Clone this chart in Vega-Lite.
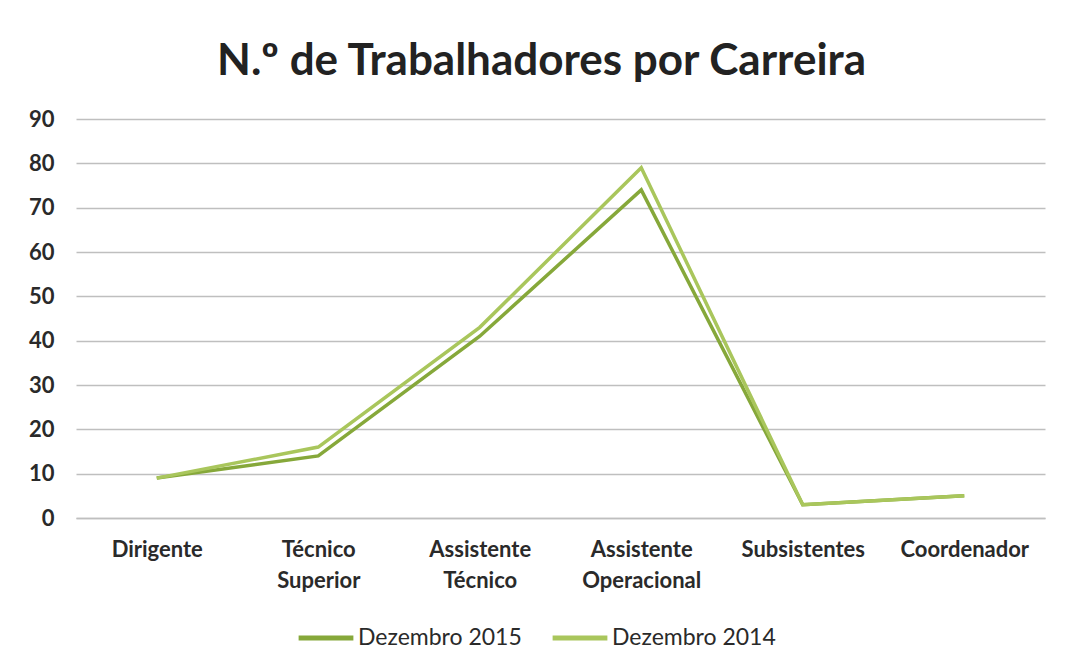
{
  "$schema": "https://vega.github.io/schema/vega-lite/v6.json",
  "width": 969,
  "height": 399,
  "autosize": "none",
  "padding": {"left": 76, "top": 119, "right": 28, "bottom": 154},
  "background": "white",
  "title": {
    "text": "N.º de Trabalhadores por Carreira",
    "font": "Lato",
    "fontSize": 44,
    "fontWeight": "bold",
    "color": "#222222",
    "anchor": "middle",
    "dx": -19,
    "offset": 24
  },
  "data": {
    "values": [
      {"carreira": "Dirigente", "serie": "Dezembro 2015", "n": 9},
      {"carreira": "Técnico Superior", "serie": "Dezembro 2015", "n": 14},
      {"carreira": "Assistente Técnico", "serie": "Dezembro 2015", "n": 41},
      {"carreira": "Assistente Operacional", "serie": "Dezembro 2015", "n": 74},
      {"carreira": "Subsistentes", "serie": "Dezembro 2015", "n": 3},
      {"carreira": "Coordenador", "serie": "Dezembro 2015", "n": 5},
      {"carreira": "Dirigente", "serie": "Dezembro 2014", "n": 9},
      {"carreira": "Técnico Superior", "serie": "Dezembro 2014", "n": 16},
      {"carreira": "Assistente Técnico", "serie": "Dezembro 2014", "n": 43},
      {"carreira": "Assistente Operacional", "serie": "Dezembro 2014", "n": 79},
      {"carreira": "Subsistentes", "serie": "Dezembro 2014", "n": 3},
      {"carreira": "Coordenador", "serie": "Dezembro 2014", "n": 5}
    ]
  },
  "mark": {"type": "line", "strokeWidth": 3.5},
  "encoding": {
    "x": {
      "field": "carreira",
      "type": "nominal",
      "sort": ["Dirigente", "Técnico Superior", "Assistente Técnico", "Assistente Operacional", "Subsistentes", "Coordenador"],
      "scale": {"paddingInner": 0, "paddingOuter": 0.5},
      "axis": {
        "title": null,
        "labelAngle": 0,
        "labelExpr": "datum.value == 'Técnico Superior' ? ['Técnico', 'Superior'] : datum.value == 'Assistente Técnico' ? ['Assistente', 'Técnico'] : datum.value == 'Assistente Operacional' ? ['Assistente', 'Operacional'] : datum.value",
        "labelFont": "Lato",
        "labelFontSize": 22,
        "labelFontWeight": "bold",
        "labelColor": "#2a2a2a",
        "labelLineHeight": 31,
        "labelPadding": 21,
        "labelBaseline": "top",
        "ticks": false,
        "domainColor": "#bfbfbf",
        "domainWidth": 1.5,
        "grid": false
      }
    },
    "y": {
      "field": "n",
      "type": "quantitative",
      "scale": {"domain": [0, 90]},
      "axis": {
        "title": null,
        "values": [0, 10, 20, 30, 40, 50, 60, 70, 80, 90],
        "labelFont": "Lato",
        "labelFontSize": 22,
        "labelFontWeight": "bold",
        "labelColor": "#2a2a2a",
        "labelPadding": 22,
        "ticks": false,
        "domain": false,
        "gridColor": "#bfbfbf",
        "gridWidth": 1.5
      }
    },
    "color": {
      "field": "serie",
      "type": "nominal",
      "scale": {"domain": ["Dezembro 2015", "Dezembro 2014"], "range": ["#86a83a", "#a9c65c"]},
      "legend": {
        "title": null,
        "orient": "none",
        "legendX": 220,
        "legendY": 489,
        "direction": "horizontal",
        "symbolType": "stroke",
        "symbolSize": 3000,
        "symbolStrokeWidth": 5,
        "labelFont": "Lato",
        "labelFontSize": 23,
        "labelColor": "#2a2a2a",
        "labelLimit": 400,
        "labelOffset": 2,
        "columnPadding": 20
      }
    }
  },
  "config": {"view": {"stroke": null}}
}
